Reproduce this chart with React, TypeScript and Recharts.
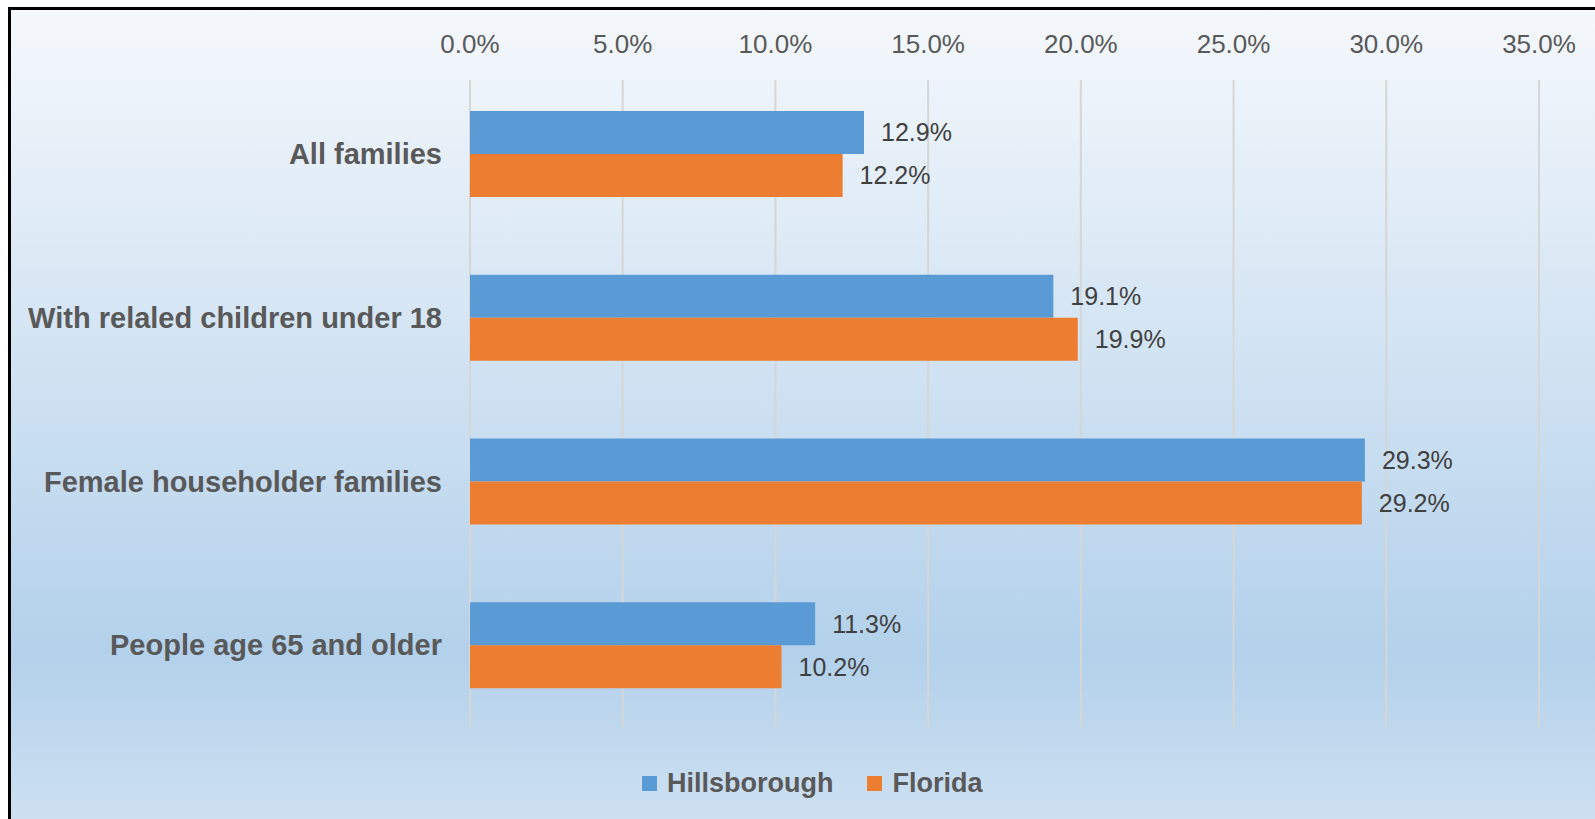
import React from "react";
import {
  BarChart,
  Bar,
  XAxis,
  YAxis,
  CartesianGrid,
  Legend,
  LabelList,
} from "recharts";

const categories = [
  "All families",
  "With relaled children under 18",
  "Female householder families",
  "People age 65 and older",
];
const hillsborough = [12.9, 19.1, 29.3, 11.3];
const florida = [12.2, 19.9, 29.2, 10.2];
const seriesNames = ["Hillsborough", "Florida"];
const xTicks = [0, 5, 10, 15, 20, 25, 30, 35];

const FONT = '"Liberation Sans", Arial, sans-serif';
const BLUE = "#5b9bd5";
const ORANGE = "#ed7d31";

const pct = (v: any) => `${Number(v).toFixed(1)}%`;

function LegendContent(props: any) {
  const { payload = [] } = props;
  // keep series order, recharts sorts by name otherwise
  const items = [...payload].sort(
    (a: any, b: any) => seriesNames.indexOf(a.value) - seriesNames.indexOf(b.value)
  );
  return (
    <div style={{ display: "flex", alignItems: "center", fontFamily: FONT }}>
      {items.map((p: any, i: number) => (
        <div
          key={`lg-${i}`}
          style={{
            display: "flex",
            alignItems: "center",
            marginRight: i < items.length - 1 ? 34 : 0,
          }}
        >
          <span
            style={{
              display: "inline-block",
              width: 15,
              height: 15,
              background: p.color,
              marginRight: 10,
            }}
          />
          <span
            style={{
              fontSize: 27,
              fontWeight: 700,
              color: "#595959",
              lineHeight: "32px",
            }}
          >
            {p.value}
          </span>
        </div>
      ))}
    </div>
  );
}

export default function App() {
  const data = categories.map((c, i) => ({
    name: c,
    hillsborough: hillsborough[i],
    florida: florida[i],
  }));

  return (
    <div
      style={{
        position: "absolute",
        left: 0,
        top: 0,
        width: 1595,
        height: 819,
        overflow: "hidden",
        background: "#fff",
      }}
    >
      <div
        style={{
          position: "absolute",
          left: 8,
          top: 7,
          width: 1584,
          height: 809,
          borderLeft: "3px solid #000",
          borderTop: "3px solid #000",
          background:
            "linear-gradient(to bottom, #f5f8fc 0px, #b3d1eb 645px, #cde0f1 809px)",
        }}
      >
        <BarChart
          width={1584}
          height={809}
          data={data}
          layout="vertical"
          margin={{ top: 0, right: 56, bottom: 92, left: 0 }}
          barGap={0}
        >
          <CartesianGrid
            horizontal={false}
            stroke="#d6d6d6"
            strokeWidth={2}
            y={70}
            height={647}
          />
          <XAxis
            type="number"
            orientation="top"
            domain={[0, 35]}
            ticks={xTicks}
            tickFormatter={pct}
            axisLine={false}
            tickLine={false}
            tickSize={0}
            tickMargin={19}
            height={62}
            interval={0}
            tick={{ fontSize: 26, fill: "#595959", fontFamily: FONT }}
          />
          <YAxis
            type="category"
            dataKey="name"
            width={459}
            axisLine={false}
            tickLine={false}
            tickSize={0}
            tickMargin={28}
            interval={0}
            tick={{
              fontSize: 29,
              fontWeight: 700,
              fill: "#595959",
              fontFamily: FONT,
            }}
          />
          <Legend
            layout="horizontal"
            verticalAlign="middle"
            align="center"
            content={<LegendContent />}
            wrapperStyle={{ top: 757, left: 631, width: 420 }}
          />
          <Bar
            dataKey="hillsborough"
            name="Hillsborough"
            fill={BLUE}
            barSize={43}
            isAnimationActive={false}
          >
            <LabelList
              dataKey="hillsborough"
              position="right"
              offset={17}
              formatter={pct}
              style={{ fontSize: 25, fill: "#404040", fontFamily: FONT }}
            />
          </Bar>
          <Bar
            dataKey="florida"
            name="Florida"
            fill={ORANGE}
            barSize={43}
            isAnimationActive={false}
          >
            <LabelList
              dataKey="florida"
              position="right"
              offset={17}
              formatter={pct}
              style={{ fontSize: 25, fill: "#404040", fontFamily: FONT }}
            />
          </Bar>
        </BarChart>
      </div>
    </div>
  );
}
